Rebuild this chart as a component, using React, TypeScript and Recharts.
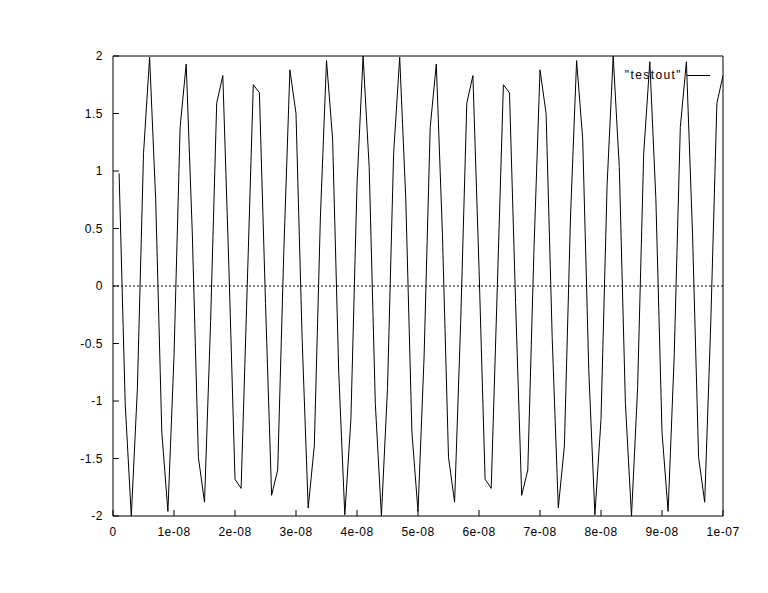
import React from 'react';
import {
    LineChart,
    Line,
    XAxis,
    YAxis,
    ReferenceLine,
    Legend,
} from 'recharts';

// sample times in ns (one sample per 1e-09 s)
const sampleNs = [
    1, 2, 3, 4, 5, 6, 7, 8, 9, 10,
    11, 12, 13, 14, 15, 16, 17, 18, 19, 20,
    21, 22, 23, 24, 25, 26, 27, 28, 29, 30,
    31, 32, 33, 34, 35, 36, 37, 38, 39, 40,
    41, 42, 43, 44, 45, 46, 47, 48, 49, 50,
    51, 52, 53, 54, 55, 56, 57, 58, 59, 60,
    61, 62, 63, 64, 65, 66, 67, 68, 69, 70,
    71, 72, 73, 74, 75, 76, 77, 78, 79, 80,
    81, 82, 83, 84, 85, 86, 87, 88, 89, 90,
    91, 92, 93, 94, 95, 96, 97, 98, 99, 100,
];

const testout = [
    0.98, -1.02, -2.0, -0.89, 1.15, 1.99, 0.75, -1.27, -1.96, -0.61,
    1.38, 1.93, 0.46, -1.49, -1.88, -0.31, 1.59, 1.83, 0.16, -1.68,
    -1.76, -0.01, 1.75, 1.68, -0.15, -1.82, -1.6, 0.3, 1.88, 1.5,
    -0.45, -1.93, -1.39, 0.6, 1.96, 1.28, -0.74, -1.99, -1.16, 0.88,
    2.0, 1.03, -1.02, -2.0, -0.89, 1.15, 1.99, 0.75, -1.27, -1.96,
    -0.61, 1.38, 1.93, 0.46, -1.49, -1.88, -0.31, 1.59, 1.83, 0.16,
    -1.68, -1.76, -0.01, 1.75, 1.68, -0.15, -1.82, -1.6, 0.3, 1.88,
    1.5, -0.45, -1.93, -1.39, 0.6, 1.96, 1.28, -0.74, -1.99, -1.16,
    0.88, 2.0, 1.03, -1.02, -2.0, -0.89, 1.15, 1.95, 0.75, -1.27,
    -1.96, -0.61, 1.38, 1.95, 0.46, -1.49, -1.88, -0.31, 1.59, 1.83,
];

const xTicks = [0, 10, 20, 30, 40, 50, 60, 70, 80, 90, 100];
const xTickLabels = ['0', '1e-08', '2e-08', '3e-08', '4e-08', '5e-08', '6e-08', '7e-08', '8e-08', '9e-08', '1e-07'];
const yTicks = [-2, -1.5, -1, -0.5, 0, 0.5, 1, 1.5, 2];

const data = sampleNs.map((t, i) => ({ t, value: testout[i] }));

const fontFamily = '"Liberation Sans", Arial, sans-serif';
const font = { fill: '#000', fontSize: 12, fontFamily, letterSpacing: 0.5 };

function LegendBox() {
    return (
        <div
            style={{
                display: 'flex',
                justifyContent: 'flex-end',
                alignItems: 'center',
                fontSize: 12,
                fontFamily,
                letterSpacing: 1.4,
                color: '#000',
                lineHeight: '16px',
            }}
        >
            <span>"testout"</span>
            <span style={{ display: 'inline-block', width: 23, borderTop: '1px solid #000', marginLeft: 5 }} />
        </div>
    );
}

export default function App() {
    return (
        <div style={{ position: 'absolute', left: 0, top: 0, background: '#fff' }}>
            <LineChart
                width={768}
                height={593}
                data={data}
                margin={{ top: 55, right: 44, left: 53, bottom: 47 }}
            >
                <XAxis
                    dataKey="t"
                    type="number"
                    domain={[0, 100]}
                    ticks={xTicks}
                    interval={0}
                    tick={font}
                    tickFormatter={(v) => xTickLabels[xTicks.indexOf(v)] ?? ''}
                    tickSize={-6}
                    tickMargin={17}
                    height={30}
                    axisLine={{ stroke: '#000' }}
                    tickLine={{ stroke: '#000' }}
                    allowDataOverflow
                />
                <XAxis
                    xAxisId="top"
                    orientation="top"
                    type="number"
                    domain={[0, 100]}
                    ticks={xTicks}
                    interval={0}
                    tick={false}
                    tickSize={-6}
                    height={1}
                    axisLine={{ stroke: '#000' }}
                    tickLine={{ stroke: '#000' }}
                />
                <YAxis
                    type="number"
                    domain={[-2, 2]}
                    ticks={yTicks}
                    interval={0}
                    tick={font}
                    tickSize={-6}
                    tickMargin={16}
                    width={60}
                    axisLine={{ stroke: '#000' }}
                    tickLine={{ stroke: '#000' }}
                    allowDataOverflow
                />
                <YAxis
                    yAxisId="right"
                    orientation="right"
                    type="number"
                    domain={[-2, 2]}
                    ticks={yTicks}
                    interval={0}
                    tick={false}
                    tickSize={-6}
                    width={1}
                    axisLine={{ stroke: '#000' }}
                    tickLine={{ stroke: '#000' }}
                />
                <ReferenceLine y={0} stroke="#000" strokeDasharray="2 2" strokeWidth={1} />
                <Legend
                    layout="horizontal"
                    verticalAlign="middle"
                    align="center"
                    content={() => <LegendBox />}
                    wrapperStyle={{ left: 560, top: 67, width: 150, height: 16 }}
                />
                <Line
                    type="linear"
                    dataKey="value"
                    stroke="#000"
                    strokeWidth={1}
                    dot={false}
                    isAnimationActive={false}
                />
            </LineChart>
        </div>
    );
}
